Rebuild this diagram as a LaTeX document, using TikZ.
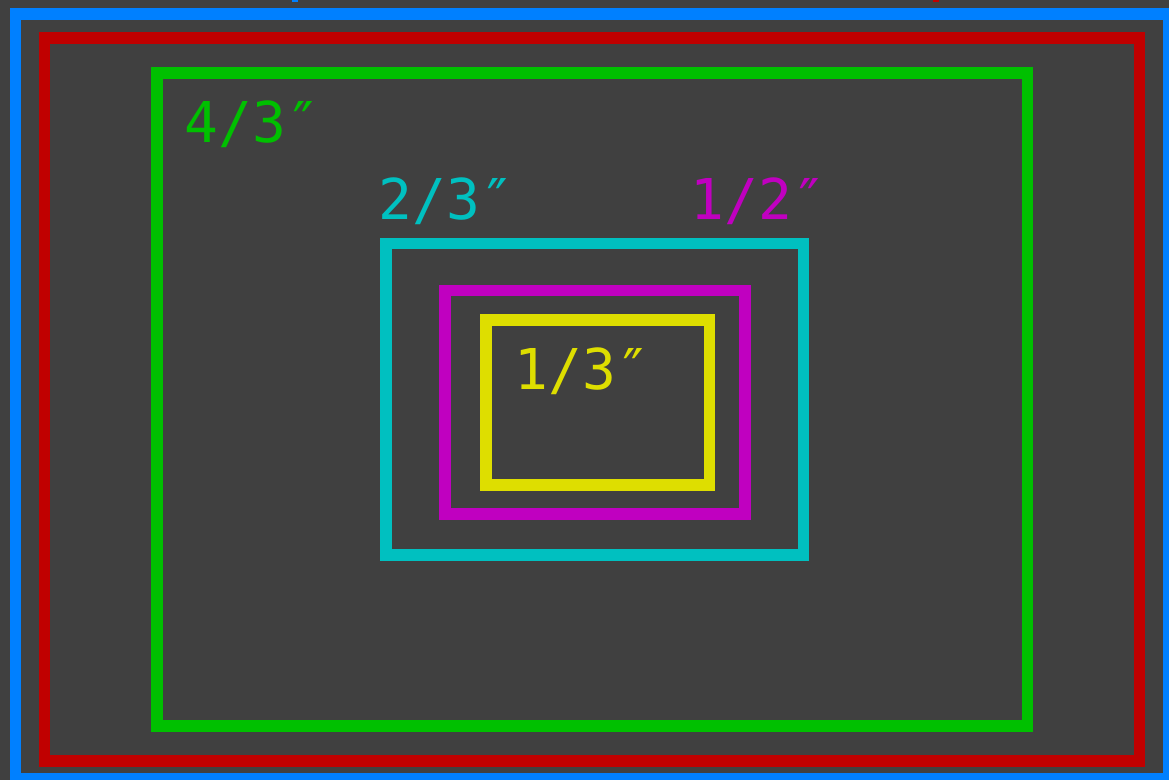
\documentclass[tikz,border=0pt]{standalone}
\usepackage{fontspec}
\setmonofont{DejaVu Sans Mono}
\usetikzlibrary{positioning}
\definecolor{szBg}{RGB}{64,64,64}
\definecolor{szB}{RGB}{0,128,255}
\definecolor{szR}{RGB}{192,0,0}
\definecolor{szG}{RGB}{0,192,0}
\definecolor{szC}{RGB}{0,192,192}
\definecolor{szM}{RGB}{192,0,192}
\definecolor{szY}{RGB}{222,222,0}

\begin{document}
\begin{tikzpicture}[x=0.01cm,y=-0.01cm,
  frame/.style={draw,line width=0.115cm,minimum width=#1,inner sep=0pt,outer sep=0pt},
  size/.style={font=\ttfamily\fontsize{16}{16}\selectfont,anchor=base west,inner sep=0pt}]
\fill[szBg] (0,0) rectangle (1169,780);
\useasboundingbox (0,0) rectangle (1169,780);
\fill[szB] (292,0) rectangle (298,2); \fill[szR] (933,0) rectangle (939,2);
\node[frame=11.52cm,minimum height=7.65cm,szB] (fB) at (592,396.5) {};
\node[frame=10.94cm,minimum height=7.23cm,szR] (fR) at (592,399.5) {};
\node[frame=8.70cm,minimum height=6.53cm,szG] (fG) at (592,399.5) {};
\node[frame=4.175cm,minimum height=3.115cm,szC] (fC) at (594.75,399.25) {};
\node[frame=3.00cm,minimum height=2.235cm,szM] (fM) at (595,402.25) {};
\node[frame=2.235cm,minimum height=1.65cm,szY] (fY) at (597.75,402.5) {};
\node[size,text=szG] (tG) at (184,143) {4/3″};
\node[size,text=szC] (tC) at (378,220) {2/3″};
\node[size,text=szM] (tM) at (690,220) {1/2″};
\node[size,text=szY] (tY) at (514,390) {1/3″};
\end{tikzpicture}
\end{document}
